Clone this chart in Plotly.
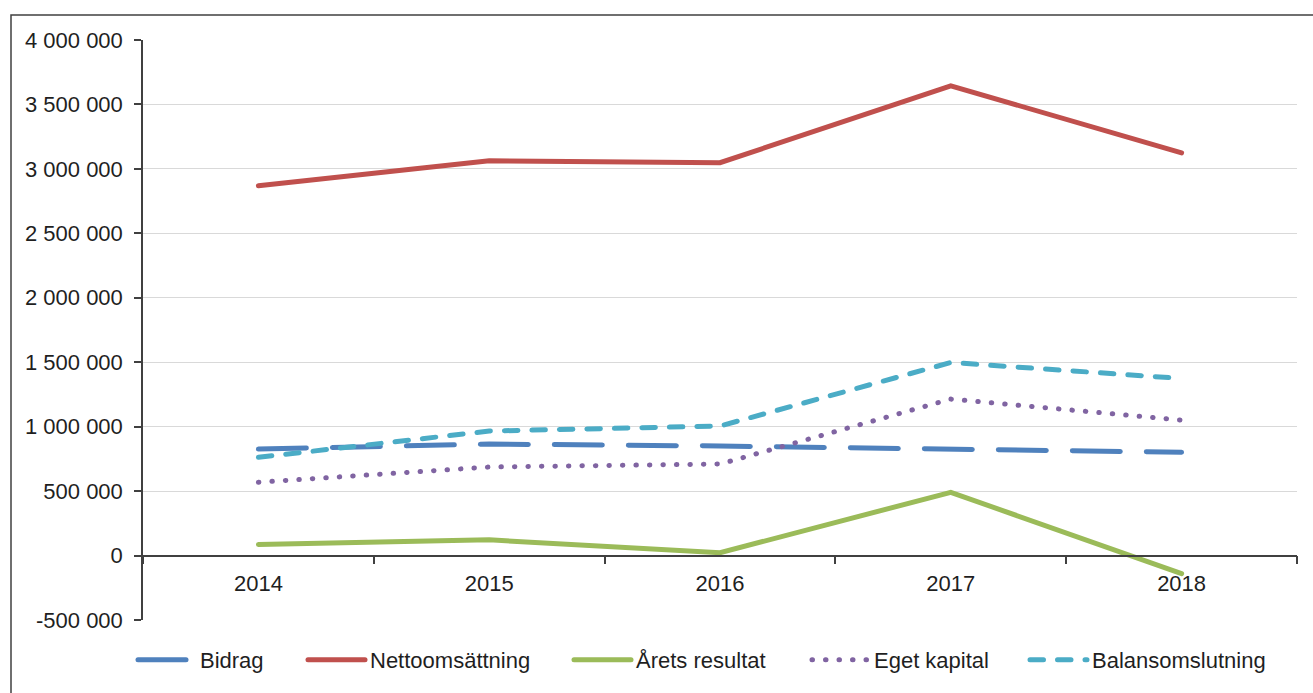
import plotly.graph_objects as go

years = ["2014", "2015", "2016", "2017", "2018"]
bidrag = [826000, 865000, 850000, 826000, 801000]
netto = [2870000, 3063000, 3048000, 3645000, 3124000]
arets = [86000, 122000, 22000, 491000, -141000]
eget = [569000, 687000, 710000, 1214000, 1051000]
balans = [762000, 966000, 1005000, 1498000, 1374000]

y_ticks = [-500000, 0, 500000, 1000000, 1500000, 2000000, 2500000, 3000000, 3500000, 4000000]
y_labels = ["-500 000", "0", "500 000", "1 000 000", "1 500 000", "2 000 000",
            "2 500 000", "3 000 000", "3 500 000", "4 000 000"]

series_names = ["Bidrag", "Nettoomsättning", "Årets resultat", "Eget kapital", "Balansomslutning"]
series_values = [bidrag, netto, arets, eget, balans]
series_colors = ["#4F81BD", "#C0504D", "#9BBB59", "#8064A2", "#4BACC6"]
series_dash = ["48px,26px", "solid", "solid", "0.5px,13px", "13.5px,14px"]

FONT = "Liberation Sans, Arial, sans-serif"
W, H = 1313, 693
ML, MR, MT, MB = 143, 16, 40, 71
PW = W - ML - MR
PH = H - MT - MB

# legend item left edges (px) in the figure
legend_px = [133, 303, 569, 807, 1025]
legend_y = (PH - (662 - MT)) / PH

fig = go.Figure()
legend_ids = ["legend", "legend2", "legend3", "legend4", "legend5"]
for i, (name, vals, color, dash) in enumerate(zip(series_names, series_values, series_colors, series_dash)):
    fig.add_trace(go.Scatter(
        x=years, y=vals, name=name, mode="lines",
        line=dict(color=color, width=5, dash=dash),
        legend=legend_ids[i],
    ))

ymin, ymax = -500000, 4000000
layout_legends = {}
for lid, px in zip(legend_ids, legend_px):
    layout_legends[lid] = dict(
        orientation="h", x=(px - ML) / PW, xanchor="left", y=legend_y, yanchor="middle",
        font=dict(family=FONT, size=22, color="#1F1F1F"), itemwidth=57,
        bgcolor="rgba(0,0,0,0)", borderwidth=0,
    )

fig.update_layout(
    width=W, height=H,
    margin=dict(l=ML, r=MR, t=MT, b=MB),
    paper_bgcolor="white", plot_bgcolor="white",
    font=dict(family=FONT, size=22, color="#1F1F1F"),
    showlegend=True,
    xaxis=dict(
        type="category", range=[-0.5, 4.5],
        anchor="free", position=(0 - ymin) / (ymax - ymin),
        showline=True, linecolor="#404040", linewidth=1.5,
        ticks="outside", tickson="boundaries", ticklen=8, tickcolor="#404040", tickwidth=1.5,
        showgrid=False, ticklabelstandoff=8,
    ),
    yaxis=dict(
        range=[ymin, ymax], tickvals=y_ticks, ticktext=y_labels,
        showline=True, linecolor="#404040", linewidth=1.5,
        ticks="outside", ticklen=7, tickcolor="#404040", tickwidth=1.5,
        showgrid=True, gridcolor="#D9D9D9", gridwidth=1.2, zeroline=False,
        ticklabelstandoff=7,
    ),
    **layout_legends,
)

fig.add_shape(type="rect", xref="paper", yref="paper",
              x0=(11 - ML) / PW, x1=1.05, y0=-0.3, y1=(PH + MT - 15) / PH,
              line=dict(color="#404040", width=1.5), fillcolor="rgba(0,0,0,0)", layer="below")

post = """
document.body.style.margin = '0';
var gd = document.getElementById('{plot_id}');
gd.querySelectorAll('path.js-line').forEach(function(p){ p.style.strokeLinecap = 'round'; });
"""
fig.write_html("out.html", post_script=post, config={"displayModeBar": False})
